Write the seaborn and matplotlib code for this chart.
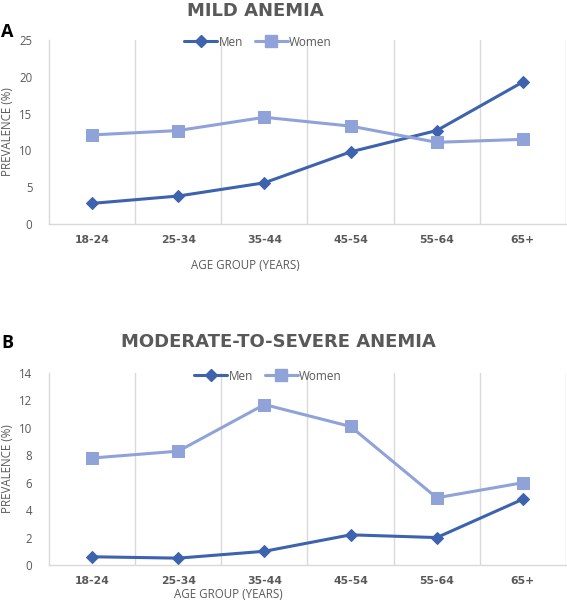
import matplotlib
matplotlib.use("Agg")
import matplotlib.pyplot as plt
import seaborn as sns
import pandas as pd
from matplotlib.lines import Line2D

age_groups = ["18-24", "25-34", "35-44", "45-54", "55-64", "65+"]
mild_men = [2.8, 3.8, 5.6, 9.8, 12.7, 19.3]
mild_women = [12.1, 12.7, 14.5, 13.3, 11.1, 11.5]
mod_men = [0.6, 0.5, 1.0, 2.2, 2.0, 4.8]
mod_women = [7.8, 8.3, 11.7, 10.1, 4.9, 6.0]
series_names = ["Men", "Women"]

sns.set_theme(style="white")
plt.rcParams["font.family"] = ["Open Sans", "DejaVu Sans"]

colors = {"Men": "#3d62ae", "Women": "#8fa3d9"}
markers = {"Men": "D", "Women": "s"}
msize = {"Men": 6, "Women": 8}
grey = "#595959"
gridc = "#d9d9d9"

fig = plt.figure(figsize=(5.67, 6.02), dpi=100)
axA = fig.add_axes([49/567, 1-224/602, (566-49)/567, (224-40)/602])
axB = fig.add_axes([49/567, 1-565/602, (566-49)/567, (565-373)/602])


def make_df(men, women):
    return pd.DataFrame({
        "age": age_groups * 2,
        "x": list(range(len(age_groups))) * 2,
        "val": list(men) + list(women),
        "sex": ["Men"] * len(men) + ["Women"] * len(women),
    })


def draw(ax, men, women, ymax, ystep):
    df = make_df(men, women)
    for s in series_names:
        sub = df[df.sex == s]
        sns.lineplot(data=sub, x="x", y="val", ax=ax, color=colors[s],
                     marker=markers[s], markersize=msize[s], linewidth=2.2,
                     markeredgecolor=colors[s], label=s, legend=False, zorder=3)
    ax.set_xlim(-0.5, len(age_groups) - 0.5)
    ax.set_ylim(0, ymax)
    ax.set_xticks(range(len(age_groups)))
    ax.set_xticklabels(age_groups, fontsize=7.8, color=grey, fontweight="bold",
                       family=["DejaVu Sans"])
    ax.set_yticks(range(0, ymax + 1, ystep))
    ax.set_yticklabels([str(v) for v in range(0, ymax + 1, ystep)], fontsize=8.3, color=grey)
    for xv in [i + 0.5 for i in range(len(age_groups))]:
        ax.axvline(xv, color=gridc, linewidth=1, zorder=1)
    for sp in ["top", "right"]:
        ax.spines[sp].set_visible(False)
    for sp in ["left", "bottom"]:
        ax.spines[sp].set_color(gridc)
        ax.spines[sp].set_linewidth(1)
    ax.tick_params(axis="x", length=0, pad=8)
    ax.tick_params(axis="y", length=0, pad=12)
    ax.set_xlabel("")
    ax.set_ylabel("PREVALENCE (%)", fontsize=8.3, color=grey)
    ax.yaxis.set_label_coords(-0.068, 0.5)
    ax.set_facecolor("white")


draw(axA, mild_men, mild_women, 25, 5)
draw(axB, mod_men, mod_women, 14, 2)

handles = [Line2D([0], [0], color=colors[s], marker=markers[s], markersize=msize[s],
                  linewidth=2.2, markeredgecolor=colors[s]) for s in series_names]
for ax, (cx, cy) in [(axA, (258, 42)), (axB, (268, 376))]:
    fig.legend(handles, series_names, loc="center", bbox_to_anchor=(cx/567, 1-cy/602),
               ncol=2, frameon=False, fontsize=8.5, handlelength=2.8, handletextpad=0.1,
               columnspacing=1.0, labelcolor=grey)

fig.text(255/567, 1-11/602, "MILD ANEMIA", ha="center", va="center",
         fontsize=13, fontweight="bold", color=grey, family=["DejaVu Sans"])
fig.text(278/567, 1-342/602, "MODERATE-TO-SEVERE ANEMIA", ha="center", va="center",
         fontsize=13, fontweight="bold", color=grey, family=["DejaVu Sans"])
fig.text(245/567, 1-265/602, "AGE GROUP (YEARS)", ha="center", va="center",
         fontsize=8.3, color=grey)
fig.text(228/567, 1-594/602, "AGE GROUP (YEARS)", ha="center", va="center",
         fontsize=8.3, color=grey)
fig.text(1/567, 1-32/602, "A", ha="left", va="center", fontsize=13, fontweight="bold", color="black")
fig.text(1/567, 1-343/602, "B", ha="left", va="center", fontsize=13, fontweight="bold", color="black")

fig.savefig("out.png", dpi=100, facecolor="white")
